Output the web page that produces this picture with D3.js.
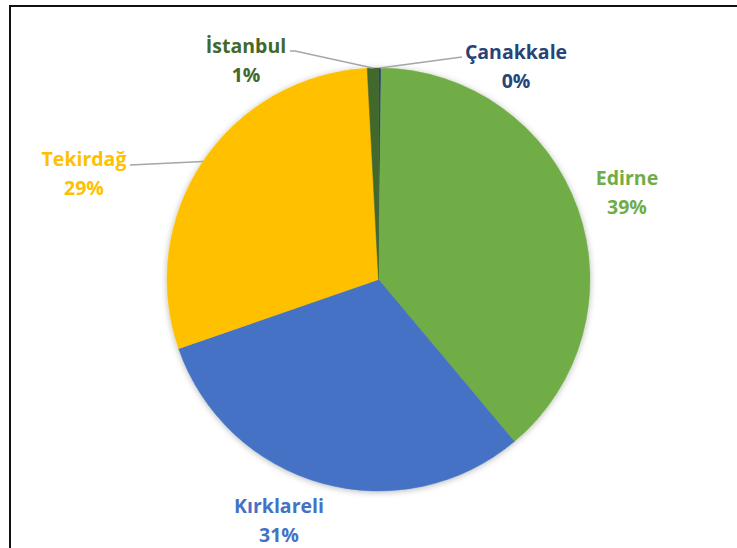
<!DOCTYPE html>
<html>
<head>
<meta charset="utf-8">
<script src="https://cdn.jsdelivr.net/npm/d3@7"></script>
<style>
  html, body { margin: 0; padding: 0; background: #fff; }
  svg { display: block; }
  text { font-family: "Open Sans", sans-serif; font-weight: 700; }
</style>
</head>
<body>
<svg id="chart" width="737" height="548"></svg>
<script>
// ---- data ----
const categories = ["Çanakkale", "Edirne", "Kırklareli", "Tekirdağ", "İstanbul"];
const shares = [0.2, 38.7, 30.8, 29.45, 0.85];
const colors = ["#264478", "#70AD47", "#4472C4", "#FFC000", "#43682B"];

// ---- layout ----
const W = 737, H = 548;
const cx = 378.5, cy = 279.5, R = 211.5;
// label anchor: [center x, first baseline y, leader start x, leader start y] (null = no leader)
const labelPos = [
  {x: 516, y: 59,    lead: [462, 57]},
  {x: 627, y: 185,   lead: null},
  {x: 279, y: 512.5, lead: null},
  {x: 84,  y: 165.5, lead: [130, 165]},
  {x: 246, y: 52.5,  lead: [290, 51]}
];
const lineGap = 29;

const svg = d3.select("#chart");

// frame
svg.append("rect")
  .attr("x", 10).attr("y", 6).attr("width", 800).attr("height", 600)
  .attr("fill", "none").attr("stroke", "#111").attr("stroke-width", 2);

// soft shadow
const defs = svg.append("defs");
const f = defs.append("filter").attr("id", "sh")
  .attr("x", "-10%").attr("y", "-10%").attr("width", "120%").attr("height", "120%");
f.append("feDropShadow").attr("dx", 0).attr("dy", 1).attr("stdDeviation", 3)
  .attr("flood-color", "#000").attr("flood-opacity", 0.28);

const pie = d3.pie().sort(null).value(d => d)(shares);
const arc = d3.arc().innerRadius(0).outerRadius(R);

const g = svg.append("g").attr("transform", `translate(${cx},${cy})`);
const slices = g.append("g").attr("filter", "url(#sh)");
slices.selectAll("path").data(pie).join("path")
  .attr("d", arc)
  .attr("fill", (d, i) => colors[i])
  .attr("stroke", (d, i) => colors[i])
  .attr("stroke-width", 0.5);

// leader lines
pie.forEach((d, i) => {
  const lp = labelPos[i];
  if (!lp.lead) return;
  const a = (d.startAngle + d.endAngle) / 2;
  const ex = cx + Math.sin(a) * R, ey = cy - Math.cos(a) * R;
  const pts = [lp.lead];
  if (i === 4) pts.push([lp.lead[0] + 5, lp.lead[1]]);
  pts.push([ex, ey]);
  svg.append("path")
    .attr("d", d3.line()(pts))
    .attr("fill", "none").attr("stroke", "#a6a6a6").attr("stroke-width", 1.6);
});

// labels
const total = d3.sum(shares);
categories.forEach((c, i) => {
  const lp = labelPos[i];
  const t = svg.append("text")
    .attr("text-anchor", "middle")
    .attr("fill", colors[i])
    .attr("font-size", 19.5);
  t.append("tspan").attr("x", lp.x).attr("y", lp.y).text(c);
  t.append("tspan").attr("x", lp.x).attr("y", lp.y + lineGap)
    .text(Math.round(shares[i] / total * 100) + "%");
});
</script>
</body>
</html>
